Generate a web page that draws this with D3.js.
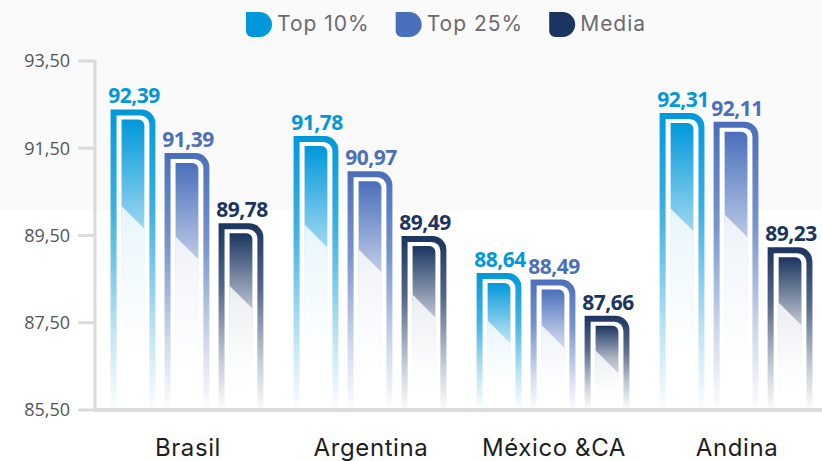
<!DOCTYPE html>
<html>
<head>
<meta charset="utf-8">
<script src="https://cdn.jsdelivr.net/npm/d3@7/dist/d3.min.js"></script>
<style>
  body { margin: 0; background: #fff; }
  svg { display: block; }
</style>
</head>
<body>
<div id="chart"></div>
<script>
const categories = ['Brasil', 'Argentina', 'México &CA', 'Andina'];
const seriesNames = ['Top 10%', 'Top 25%', 'Media'];
const top10 = [92.39, 91.78, 88.64, 92.31];
const top25 = [91.39, 90.97, 88.49, 92.11];
const media = [89.78, 89.49, 87.66, 89.23];
const yTicks = [85.5, 87.5, 89.5, 91.5, 93.5];
const colors = ['#0098da', '#4a6fbb', '#1b3560'];

const width = 822, height = 461;
const values = [top10, top25, media];

let svg = d3.select('#chart').append('svg')
  .attr('width', width).attr('height', height);

let fmt = d3.formatLocale({ decimal: ',', thousands: '.', grouping: [3], currency: ['', ''] }).format('.2f');

/// light band behind the top of the chart
svg.append('rect').attr('x', 0).attr('y', 0).attr('width', width).attr('height', 210).attr('fill', '#fafafb');

let y = d3.scaleLinear().domain([85.5, 93.5]).range([410, 61]);
let x0 = d3.scaleBand().domain(categories).range([95, 828]).paddingInner(0.165).paddingOuter(0.085);
let x1 = d3.scaleBand().domain(seriesNames).range([0, x0.bandwidth()]).paddingInner(0.17);

/// gradients, one set per series
let defs = svg.append('defs');
seriesNames.forEach(function(s, i) {
  let outer = defs.append('linearGradient').attr('id', 'outer' + i)
    .attr('x1', 0).attr('y1', 0).attr('x2', 0).attr('y2', 1);
  outer.append('stop').attr('offset', 0).attr('stop-color', colors[i]).attr('stop-opacity', 1);
  outer.append('stop').attr('offset', 0.35).attr('stop-color', colors[i]).attr('stop-opacity', 0.75);
  outer.append('stop').attr('offset', 0.75).attr('stop-color', colors[i]).attr('stop-opacity', 0.25);
  outer.append('stop').attr('offset', 1).attr('stop-color', colors[i]).attr('stop-opacity', 0.02);

  let inner = defs.append('linearGradient').attr('id', 'inner' + i)
    .attr('x1', 0).attr('y1', 0).attr('x2', 0).attr('y2', 1);
  inner.append('stop').attr('offset', 0).attr('stop-color', colors[i]).attr('stop-opacity', 1);
  inner.append('stop').attr('offset', 0.4).attr('stop-color', colors[i]).attr('stop-opacity', 0.35);
  inner.append('stop').attr('offset', 0.8).attr('stop-color', colors[i]).attr('stop-opacity', 0.03);
  inner.append('stop').attr('offset', 1).attr('stop-color', colors[i]).attr('stop-opacity', 0);
});

/// flat left side, rounded top-right corner
function barPath(x, top, w, bottom, r) {
  return 'M' + x + ',' + bottom + 'V' + top + 'H' + (x + w - r) +
    'A' + r + ',' + r + ' 0 0 1 ' + (x + w) + ',' + (top + r) + 'V' + bottom + 'Z';
}

/// axis
let axis = svg.append('g');
axis.append('line').attr('x1', 95).attr('x2', 95).attr('y1', y(93.5) - 1).attr('y2', y(85.5))
  .attr('stroke', '#dadada').attr('stroke-width', 3);
axis.selectAll('.tick').data(yTicks).enter().append('line')
  .attr('x1', 78).attr('x2', 95).attr('y1', d => y(d)).attr('y2', d => y(d))
  .attr('stroke', '#dadada').attr('stroke-width', 3);
axis.selectAll('.tlabel').data(yTicks).enter().append('text')
  .attr('x', 70).attr('y', d => y(d)).attr('dy', '0.35em')
  .attr('text-anchor', 'end')
  .style('font-family', 'Open Sans').style('font-size', '18px').attr('fill', '#555')
  .text(d => fmt(d));

/// bars
let groups = svg.selectAll('.group').data(categories).enter().append('g')
  .attr('transform', d => 'translate(' + x0(d) + ',0)');

groups.each(function(cat, ci) {
  let g = d3.select(this);
  seriesNames.forEach(function(s, si) {
    let v = values[si][ci];
    let bx = x1(s), w = x1.bandwidth();
    let top = y(v), bottom = y(85.5) - 2;
    g.append('path').attr('d', barPath(bx, top, w, bottom, 14)).attr('fill', 'url(#outer' + si + ')');
    g.append('path').attr('d', barPath(bx + 6, top + 6, w - 12, bottom, 9)).attr('fill', '#fff');
    let il = bx + 11, iw = w - 22, it = top + 10;
    g.append('path').attr('d', barPath(il, it, iw, bottom, 6)).attr('fill', 'url(#inner' + si + ')');
    /// diagonal gloss on the inner part
    let dy = it + (bottom - it) * 0.3;
    g.append('path')
      .attr('d', 'M' + il + ',' + dy + 'L' + (il + iw) + ',' + (dy + iw) + 'V' + bottom + 'H' + il + 'Z')
      .attr('fill', '#fff').attr('fill-opacity', 0.8);
    g.append('text')
      .attr('x', bx + w / 2 + 1).attr('y', top - 6)
      .attr('text-anchor', 'middle')
      .style('font-family', 'Open Sans').style('font-weight', 700).style('font-size', '21px')
      .style('letter-spacing', '-0.5px')
      .attr('fill', colors[si])
      .text(fmt(v));
  });
});

/// baseline
svg.append('line').attr('x1', 94).attr('x2', width).attr('y1', y(85.5)).attr('y2', y(85.5))
  .attr('stroke', '#dcdcdc').attr('stroke-width', 4);

/// category labels
svg.selectAll('.cat').data(categories).enter().append('text')
  .attr('x', d => x0(d) + x0.bandwidth() / 2 + 1).attr('y', 456)
  .attr('text-anchor', 'middle')
  .style('font-family', 'Inter').style('font-weight', 400).style('font-size', '24px')
  .style('letter-spacing', '0.6px')
  .attr('fill', '#1e1e1e')
  .text(d => d);

/// legend
let legend = svg.append('g');
let lx = 246;
seriesNames.forEach(function(s, i) {
  let w = 26, h = 25, r1 = 12.5, r2 = 6, ly = 12;
  legend.append('path')
    .attr('d', 'M' + lx + ',' + ly + 'H' + (lx + w - r1) +
      'A' + r1 + ',' + r1 + ' 0 0 1 ' + (lx + w) + ',' + (ly + r1) +
      'A' + r1 + ',' + r1 + ' 0 0 1 ' + (lx + w - r1) + ',' + (ly + h) +
      'H' + (lx + r2) + 'A' + r2 + ',' + r2 + ' 0 0 1 ' + lx + ',' + (ly + h - r2) + 'Z')
    .attr('fill', colors[i]);
  let t = legend.append('text')
    .attr('x', lx + 31).attr('y', 31)
    .style('font-family', 'Inter').style('font-weight', 400).style('font-size', '21px')
    .style('letter-spacing', '1px')
    .attr('fill', '#6b6b6e')
    .text(s);
  lx = lx + 31 + t.node().getComputedTextLength() + 26;
});
</script>
</body>
</html>
